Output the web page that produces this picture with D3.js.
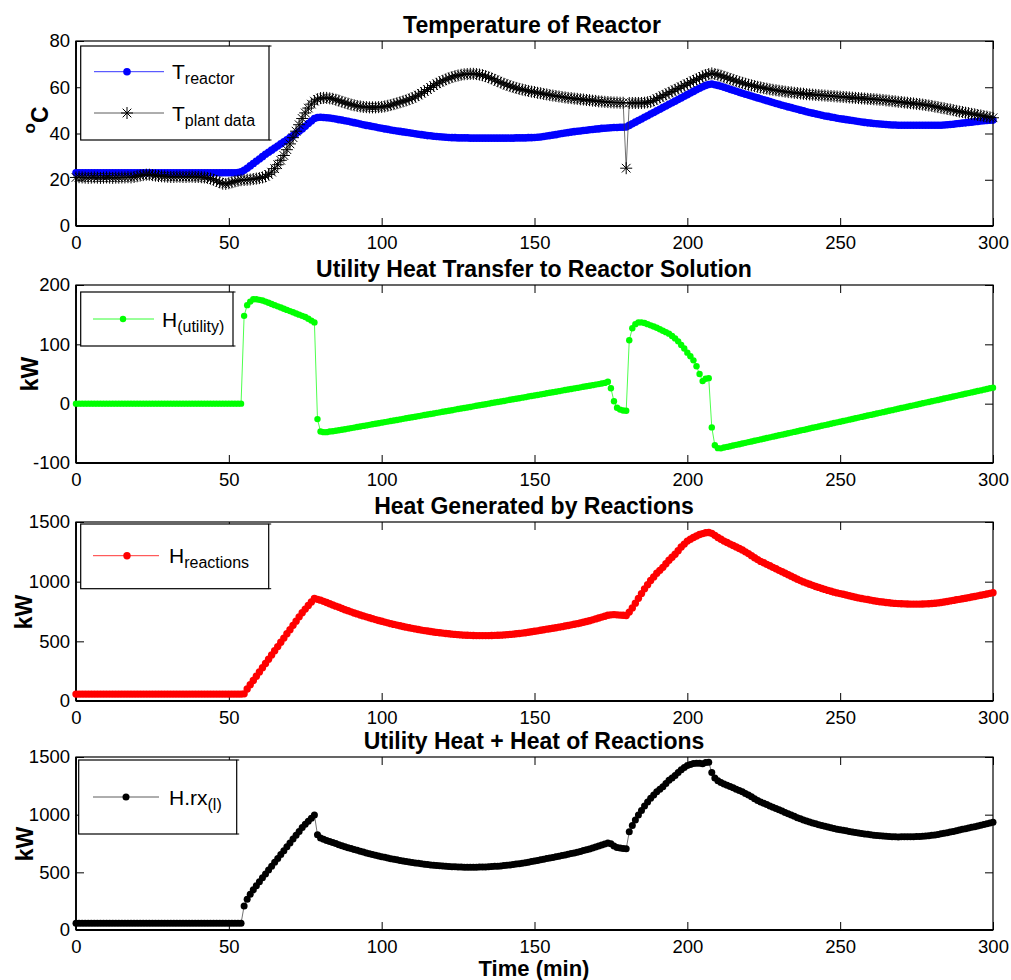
<!DOCTYPE html>
<html>
<head>
<meta charset="utf-8">
<script src="https://cdn.jsdelivr.net/npm/d3@7"></script>
<style>
  body { margin: 0; background: #fff; }
  svg text { font-family: "Liberation Sans", Arial, Helvetica, sans-serif; }
</style>
</head>
<body>
<svg id="chart" width="1011" height="980"></svg>
<script>
// Sampling grid (minutes) shared by every series: one sample per minute
const minutes = d3.range(0, 301);

// Reactor temperature from the model, degC
const tReactor = [
  23, 23, 23, 23, 23, 23, 23, 23, 23, 23,
  23, 23, 23, 23, 23, 23, 23, 23, 23, 23,
  23, 23, 23, 23, 23, 23, 23, 23, 23, 23,
  23, 23, 23, 23, 23, 23, 23, 23, 23, 23,
  23, 23, 23, 23, 23, 23, 23, 23, 23, 23,
  23, 23, 23, 23.1, 23.4, 24.1, 25, 26, 27, 28,
  29, 30, 31, 31.9, 32.8, 33.7, 34.6, 35.5, 36.4, 37.3,
  38.2, 39.1, 40, 41, 42, 43.1, 44.3, 45.4, 46.5, 46.9,
  47, 46.9, 46.8, 46.7, 46.5, 46.3, 46, 45.8, 45.5, 45.3,
  45, 44.7, 44.4, 44.1, 43.8, 43.5, 43.3, 43, 42.8, 42.5,
  42.3, 42, 41.8, 41.5, 41.3, 41.1, 40.9, 40.7, 40.5, 40.3,
  40.1, 39.9, 39.7, 39.5, 39.3, 39.1, 39, 38.8, 38.7, 38.6,
  38.5, 38.4, 38.3, 38.2, 38.2, 38.1, 38.1, 38.1, 38.1, 38,
  38, 38, 38, 38, 38, 38, 38, 38, 38, 38,
  38, 38, 38, 38, 38.1, 38.1, 38.1, 38.1, 38.2, 38.2,
  38.3, 38.4, 38.5, 38.7, 38.9, 39.1, 39.3, 39.5, 39.8, 40,
  40.2, 40.4, 40.6, 40.8, 41, 41.1, 41.3, 41.4, 41.6, 41.7,
  41.9, 42, 42.2, 42.3, 42.4, 42.5, 42.6, 42.6, 42.7, 42.7,
  42.8, 43.5, 44.2, 44.9, 45.6, 46.3, 47, 47.7, 48.4, 49.1,
  49.8, 50.5, 51.2, 51.9, 52.6, 53.3, 54, 54.7, 55.4, 56.1,
  56.8, 57.5, 58.2, 58.9, 59.6, 60.2, 60.8, 61.2, 61.4, 61.1,
  60.8, 60.4, 60, 59.6, 59.1, 58.7, 58.3, 57.8, 57.4, 57,
  56.6, 56.2, 55.8, 55.4, 55, 54.6, 54.2, 53.8, 53.4, 53,
  52.6, 52.2, 51.9, 51.5, 51.2, 50.8, 50.5, 50.1, 49.8, 49.4,
  49.1, 48.8, 48.5, 48.2, 47.9, 47.6, 47.4, 47.1, 46.9, 46.6,
  46.4, 46.2, 46, 45.8, 45.6, 45.4, 45.2, 45, 44.8, 44.6,
  44.5, 44.3, 44.2, 44.1, 44, 43.9, 43.8, 43.7, 43.7, 43.6,
  43.6, 43.6, 43.6, 43.6, 43.6, 43.6, 43.6, 43.6, 43.6, 43.6,
  43.6, 43.6, 43.6, 43.6, 43.7, 43.8, 43.9, 44, 44.2, 44.3,
  44.5, 44.6, 44.8, 44.9, 45.1, 45.2, 45.4, 45.5, 45.6, 45.7,
  45.8
];

// Measured plant temperature, degC
const tPlant = [
  21, 21.1, 21, 20.9, 20.8, 20.9, 21, 20.9, 20.8, 20.9,
  21, 20.9, 20.8, 20.9, 20.9, 21, 21, 21.1, 21, 21.2,
  21.5, 21.8, 22, 22.2, 22.2, 22, 21.8, 21.6, 21.5, 21.4,
  21.3, 21.2, 21.2, 21.3, 21.3, 21.2, 21.2, 21.3, 21.3, 21.2,
  21.2, 21.1, 21, 20.8, 20.5, 20, 19.5, 18.9, 18.3, 18.2,
  18.5, 18.9, 19.3, 19.6, 19.8, 19.9, 20, 20.1, 20.3, 20.5,
  20.7, 21, 21.5, 22.3, 23.3, 24.8, 26.5, 28.4, 30.5, 33,
  35.5, 38.2, 41, 43.8, 46.5, 48.9, 51, 52.7, 54, 54.8,
  55.3, 55.4, 55.4, 55.2, 55, 54.6, 54.2, 53.7, 53.3, 52.9,
  52.5, 52.2, 51.9, 51.7, 51.5, 51.4, 51.3, 51.3, 51.3, 51.4,
  51.5, 51.7, 52, 52.3, 52.7, 53.1, 53.5, 53.9, 54.3, 54.8,
  55.3, 55.9, 56.6, 57.4, 58.2, 59, 59.9, 60.7, 61.5, 62.2,
  62.8, 63.4, 63.9, 64.4, 64.8, 65.1, 65.4, 65.6, 65.7, 65.8,
  65.8, 65.7, 65.5, 65.2, 64.8, 64.3, 63.8, 63.2, 62.6, 62,
  61.5, 61, 60.5, 60.1, 59.7, 59.3, 59, 58.7, 58.4, 58.1,
  57.9, 57.6, 57.4, 57.1, 56.9, 56.6, 56.4, 56.2, 56, 55.8,
  55.6, 55.4, 55.3, 55.1, 55, 54.8, 54.7, 54.5, 54.4, 54.2,
  54.1, 53.9, 53.8, 53.7, 53.6, 53.5, 53.4, 53.4, 53.3, 53.3,
  25, 53.2, 53.2, 53.2, 53.2, 53.2, 53.3, 53.5, 53.7, 54.3,
  55, 55.6, 56.3, 56.9, 57.6, 58.2, 58.9, 59.5, 60.2, 60.8,
  61.5, 62.1, 62.8, 63.4, 64, 64.7, 65.3, 65.7, 66, 65.7,
  65.4, 65, 64.5, 64.1, 63.6, 63.2, 62.7, 62.3, 61.9, 61.5,
  61.1, 60.8, 60.5, 60.2, 59.9, 59.6, 59.4, 59.1, 58.9, 58.7,
  58.5, 58.3, 58.1, 57.9, 57.8, 57.6, 57.5, 57.3, 57.2, 57,
  56.9, 56.8, 56.7, 56.6, 56.5, 56.4, 56.3, 56.2, 56.1, 56,
  55.9, 55.8, 55.7, 55.6, 55.5, 55.4, 55.3, 55.2, 55.1, 55,
  54.9, 54.8, 54.7, 54.6, 54.5, 54.3, 54.2, 54, 53.9, 53.7,
  53.6, 53.4, 53.3, 53.1, 53, 52.8, 52.7, 52.5, 52.3, 52.1,
  51.9, 51.6, 51.4, 51.1, 50.9, 50.6, 50.4, 50.1, 49.8, 49.5,
  49.3, 49, 48.8, 48.5, 48.3, 48, 47.8, 47.5, 47.3, 47,
  46.8
];

// Utility heat transferred to the reactor solution, kW
const hUtility = [
  0, 0, 0, 0, 0, 0, 0, 0, 0, 0,
  0, 0, 0, 0, 0, 0, 0, 0, 0, 0,
  0, 0, 0, 0, 0, 0, 0, 0, 0, 0,
  0, 0, 0, 0, 0, 0, 0, 0, 0, 0,
  0, 0, 0, 0, 0, 0, 0, 0, 0, 0,
  0, 0, 0, 0, 0, 148, 166, 172, 176, 176,
  175, 174, 172, 170, 168, 166, 164, 162, 160, 158,
  156, 154, 152, 150, 148, 146, 143, 140, 137, -26,
  -47, -48, -48, -47, -46.5, -45.6, -44.8, -43.9, -43, -42.1,
  -41.2, -40.3, -39.4, -38.5, -37.5, -36.6, -35.7, -34.8, -33.9, -33,
  -32, -31.1, -30.2, -29.3, -28.4, -27.5, -26.5, -25.6, -24.7, -23.8,
  -22.9, -22, -21, -20.1, -19.2, -18.3, -17.4, -16.5, -15.5, -14.6,
  -13.7, -12.8, -11.9, -11, -10, -9.1, -8.2, -7.3, -6.4, -5.5,
  -4.5, -3.6, -2.7, -1.8, -0.9, 0, 1, 1.9, 2.8, 3.7,
  4.6, 5.5, 6.5, 7.4, 8.3, 9.2, 10.1, 11, 12, 12.9,
  13.8, 14.7, 15.6, 16.5, 17.5, 18.4, 19.3, 20.2, 21.1, 22,
  23, 23.9, 24.8, 25.7, 26.6, 27.5, 28.5, 29.4, 30.3, 31.2,
  32.1, 33, 34, 35, 37, 26, 4, -7, -10, -11.5,
  -12, 107, 127, 134, 137, 137, 136, 134, 132, 130,
  128, 125.5, 123, 120.5, 118, 114, 110, 105, 99, 93,
  86, 80, 73, 63, 50, 38, 42, 43, -40, -70,
  -75, -75.3, -74, -72.9, -71.7, -70.6, -69.4, -68.3, -67.1, -66,
  -64.8, -63.7, -62.5, -61.4, -60.2, -59.1, -57.9, -56.8, -55.6, -54.5,
  -53.3, -52.2, -51, -49.9, -48.8, -47.6, -46.4, -45.3, -44.2, -43,
  -41.9, -40.7, -39.6, -38.4, -37.3, -36.1, -35, -33.8, -32.7, -31.5,
  -30.4, -29.2, -28.1, -26.9, -25.8, -24.6, -23.5, -22.3, -21.2, -20,
  -18.9, -17.8, -16.6, -15.5, -14.3, -13.2, -12, -10.9, -9.7, -8.6,
  -7.4, -6.3, -5.1, -4, -2.8, -1.7, -0.5, 0.6, 1.8, 2.9,
  4, 5.2, 6.3, 7.5, 8.6, 9.8, 10.9, 12.1, 13.2, 14.4,
  15.5, 16.7, 17.8, 19, 20.1, 21.3, 22.4, 23.6, 24.7, 25.9,
  27
];

// Heat generated by the reactions, kW
const hReactions = [
  58, 58, 58, 58, 58, 58, 58, 58, 58, 58,
  58, 58, 58, 58, 58, 58, 58, 58, 58, 58,
  58, 58, 58, 58, 58, 58, 58, 58, 58, 58,
  58, 58, 58, 58, 58, 58, 58, 58, 58, 58,
  58, 58, 58, 58, 58, 58, 58, 58, 58, 58,
  58, 58, 58, 58, 58, 60, 100, 137, 172, 208,
  243, 279, 314, 350, 385, 421, 456, 492, 527, 563,
  598, 634, 669, 705, 740, 770, 800, 830, 860, 852,
  845, 835, 825, 815, 805, 795, 785, 775, 765, 756,
  747, 738, 730, 721, 713, 705, 697, 690, 682, 675,
  668, 661, 655, 648, 642, 636, 630, 624, 619, 614,
  609, 604, 599, 594, 590, 586, 582, 578, 575, 572,
  569, 566, 563, 560, 558, 556, 554, 552, 551, 550,
  549, 548, 548, 548, 548, 548, 549, 550, 551, 552,
  554, 556, 558, 560, 563, 566, 569, 572, 576, 580,
  584, 588, 593, 597, 602, 606, 610, 614, 619, 623,
  628, 633, 638, 643, 648, 654, 660, 666, 673, 680,
  688, 695, 703, 710, 718, 722, 724, 722, 720, 718,
  716, 745, 780, 820, 860, 900, 940, 975, 1010, 1040,
  1070, 1095, 1120, 1150, 1180, 1205, 1230, 1260, 1290, 1315,
  1340, 1355, 1370, 1383, 1395, 1403, 1410, 1412, 1405, 1388,
  1370, 1355, 1340, 1328, 1315, 1303, 1290, 1278, 1265, 1250,
  1235, 1218, 1200, 1185, 1170, 1158, 1145, 1133, 1120, 1108,
  1095, 1083, 1070, 1058, 1045, 1033, 1020, 1009, 998, 988,
  978, 969, 960, 952, 943, 935, 927, 920, 912, 906,
  900, 894, 888, 882, 876, 870, 864, 859, 854, 850,
  845, 840, 836, 832, 829, 826, 823, 820, 818, 816,
  815, 814, 813, 812, 812, 812, 812, 813, 814, 815,
  817, 819, 822, 826, 830, 834, 839, 843, 848, 852,
  857, 861, 866, 871, 876, 881, 886, 891, 897, 902,
  908
];

// Utility heat plus heat of reactions, kW
const hTotal = [
  58, 58, 58, 58, 58, 58, 58, 58, 58, 58,
  58, 58, 58, 58, 58, 58, 58, 58, 58, 58,
  58, 58, 58, 58, 58, 58, 58, 58, 58, 58,
  58, 58, 58, 58, 58, 58, 58, 58, 58, 58,
  58, 58, 58, 58, 58, 58, 58, 58, 58, 58,
  58, 58, 58, 58, 58, 208, 266, 309, 348, 384,
  418, 453, 486, 520, 553, 587, 620, 654, 687, 721,
  754, 788, 821, 855, 888, 916, 943, 970, 997, 826,
  798, 787, 777, 768, 758.5, 749.4, 740.2, 731.1, 722, 713.9,
  705.8, 697.7, 690.6, 682.5, 675.5, 668.4, 661.3, 655.2, 648.1, 642,
  636, 629.9, 624.8, 618.7, 613.6, 608.5, 603.5, 598.4, 594.3, 590.2,
  586.1, 582, 578, 573.9, 570.8, 567.7, 564.6, 561.5, 559.5, 557.4,
  555.3, 553.2, 551.1, 549, 548, 546.9, 545.8, 544.7, 544.6, 544.5,
  544.5, 544.4, 545.3, 546.2, 547.1, 548, 550, 551.9, 553.8, 555.7,
  558.6, 561.5, 564.5, 567.4, 571.3, 575.2, 579.1, 583, 588, 592.9,
  597.8, 602.7, 608.6, 613.5, 619.5, 624.4, 629.3, 634.2, 640.1, 645,
  651, 656.9, 662.8, 668.7, 674.6, 681.5, 688.5, 695.4, 703.3, 711.2,
  720.1, 728, 737, 745, 755, 748, 728, 715, 710, 706.5,
  704, 852, 907, 954, 997, 1037, 1076, 1109, 1142, 1170,
  1198, 1220.5, 1243, 1270.5, 1298, 1319, 1340, 1365, 1389, 1408,
  1426, 1435, 1443, 1446, 1445, 1441, 1452, 1455, 1365, 1318,
  1295, 1279.7, 1266, 1255.1, 1243.3, 1232.4, 1220.6, 1209.7, 1197.9, 1184,
  1170.2, 1154.3, 1137.5, 1123.6, 1109.8, 1098.9, 1087.1, 1076.2, 1064.4, 1053.5,
  1041.7, 1030.8, 1019, 1008.1, 996.2, 985.4, 973.6, 963.7, 953.8, 945,
  936.1, 928.3, 920.4, 913.6, 905.7, 898.9, 892, 886.2, 879.3, 874.5,
  869.6, 864.8, 859.9, 855.1, 850.2, 845.4, 840.5, 836.7, 832.8, 830,
  826.1, 822.2, 819.4, 816.5, 814.7, 812.8, 811, 809.1, 808.3, 807.4,
  807.6, 807.7, 807.9, 808, 809.2, 810.3, 811.5, 813.6, 815.8, 817.9,
  821, 824.2, 828.3, 833.5, 838.6, 843.8, 849.9, 855.1, 861.2, 866.4,
  872.5, 877.7, 883.8, 890, 896.1, 902.3, 908.4, 914.6, 921.7, 927.9,
  935
];

// Tick values
const timeTicks = [0, 50, 100, 150, 200, 250, 300];
const tempTicks = [0, 20, 40, 60, 80];
const utilityTicks = [-100, 0, 100, 200];
const heatTicks = [0, 500, 1000, 1500];

const FONT = '"Liberation Sans", Arial, Helvetica, sans-serif';
const svg = d3.select("#chart");
svg.append("rect").attr("width", 1011).attr("height", 980).attr("fill", "#fff");

const x = d3.scaleLinear().domain([0, 300]).range([76, 993]);
const plotLeft = 76, plotRight = 993, TICK = 8;
const plainNumber = d => String(d);

const panels = [
  {
    top: 41, bottom: 226, domain: [0, 80], ticks: tempTicks,
    title: "Temperature of Reactor", titleX: 532,
    ylabel: { kind: "degC", x: 48, y: 120 },
    series: [
      { values: tReactor, line: "#0000ff", fill: "#0000ff", marker: "dot", r: 3.8 },
      { values: tPlant, line: "#333", stroke: "#000", marker: "star", r: 6, sw: 1 }
    ],
    legend: {
      x: 80.7, y: 46, w: 188.3, h: 94,
      rows: [
        { y: 71.7, x1: 94, x2: 164, mx: 127, tx: 172, main: "T", sub: "reactor", s: 0 },
        { y: 113, x1: 94, x2: 164, mx: 127, tx: 172, main: "T", sub: "plant data", s: 1 }
      ]
    }
  },
  {
    top: 285, bottom: 463, domain: [-100, 200], ticks: utilityTicks,
    title: "Utility Heat Transfer to Reactor Solution", titleX: 534,
    ylabel: { kind: "text", text: "kW", x: 38, y: 374 },
    series: [
      { values: hUtility, line: "#00ff00", fill: "#00ff00", marker: "dot", r: 3.2 }
    ],
    legend: {
      x: 80.7, y: 292, w: 152.3, h: 54,
      rows: [
        { y: 319, x1: 93, x2: 154, mx: 123, tx: 162, main: "H", sub: "(utility)", s: 0 }
      ]
    }
  },
  {
    top: 522, bottom: 701, domain: [0, 1500], ticks: heatTicks,
    title: "Heat Generated by Reactions", titleX: 534,
    ylabel: { kind: "text", text: "kW", x: 32, y: 612 },
    series: [
      { values: hReactions, line: "#ff0000", fill: "#ff0000", marker: "dot", r: 3.7 }
    ],
    legend: {
      x: 80.7, y: 524, w: 188, h: 64.7,
      rows: [
        { y: 555.7, x1: 93, x2: 159, mx: 127, tx: 169, main: "H", sub: "reactions", s: 0 }
      ]
    }
  },
  {
    top: 757, bottom: 930, domain: [0, 1500], ticks: heatTicks,
    title: "Utility Heat + Heat of Reactions", titleX: 534,
    ylabel: { kind: "text", text: "kW", x: 33, y: 844 },
    series: [
      { values: hTotal, line: "#333", fill: "#000", marker: "dot", r: 3.5 }
    ],
    legend: {
      x: 78.7, y: 760, w: 158, h: 74,
      rows: [
        { y: 797, x1: 93, x2: 159, mx: 126, tx: 169, main: "H.rx", sub: "(l)", s: 0 }
      ]
    }
  }
];

// Asterisk marker outline
function starPath(s) {
  const d = s * 0.72;
  return `M${-s},0H${s}M0,${-s}V${s}M${-d},${-d}L${d},${d}M${-d},${d}L${d},${-d}`;
}

function drawMarker(g, mx, my, ser) {
  if (ser.marker === "dot") {
    g.append("circle").attr("cx", mx).attr("cy", my).attr("r", ser.r).attr("fill", ser.fill);
  } else {
    g.append("path").attr("transform", `translate(${mx},${my})`)
      .attr("d", starPath(ser.r)).attr("fill", "none")
      .attr("stroke", ser.stroke).attr("stroke-width", ser.sw);
  }
}

panels.forEach(p => {
  const y = d3.scaleLinear().domain(p.domain).range([p.bottom, p.top]);
  const g = svg.append("g");

  // Plot frame
  g.append("rect").attr("x", plotLeft).attr("y", p.top)
    .attr("width", plotRight - plotLeft).attr("height", p.bottom - p.top)
    .attr("fill", "#fff").attr("stroke", "#000").attr("stroke-width", 1.2);
  g.append("line").attr("x1", plotLeft).attr("x2", plotLeft).attr("y1", p.top).attr("y2", p.bottom)
    .attr("stroke", "#000").attr("stroke-width", 1.8);
  g.append("line").attr("x1", plotLeft).attr("x2", plotRight).attr("y1", p.bottom).attr("y2", p.bottom)
    .attr("stroke", "#000").attr("stroke-width", 1.8);

  // Axes with inward ticks on all four sides
  const bottomAxis = g.append("g").attr("transform", `translate(0,${p.bottom})`)
    .call(d3.axisBottom(x).tickValues(timeTicks).tickFormat(plainNumber)
      .tickSizeInner(-TICK).tickSizeOuter(0).tickPadding(9.5));
  const topAxis = g.append("g").attr("transform", `translate(0,${p.top})`)
    .call(d3.axisTop(x).tickValues(timeTicks).tickSizeInner(-TICK).tickSizeOuter(0).tickFormat(""));
  const leftAxis = g.append("g").attr("transform", `translate(${plotLeft},0)`)
    .call(d3.axisLeft(y).tickValues(p.ticks).tickFormat(plainNumber)
      .tickSizeInner(-TICK).tickSizeOuter(0).tickPadding(6));
  const rightAxis = g.append("g").attr("transform", `translate(${plotRight},0)`)
    .call(d3.axisRight(y).tickValues(p.ticks).tickSizeInner(-TICK).tickSizeOuter(0).tickFormat(""));
  [bottomAxis, topAxis, leftAxis, rightAxis].forEach(a => {
    a.select(".domain").remove();
    a.attr("font-size", 18.5).attr("font-family", FONT);
    a.selectAll(".tick line").attr("stroke", "#000").attr("stroke-width", 1);
    a.selectAll(".tick text").attr("fill", "#000");
  });

  // Series: thin connecting line, then markers
  p.series.forEach(ser => {
    const line = d3.line().x((v, i) => x(minutes[i])).y(v => y(v));
    g.append("path").datum(ser.values).attr("d", line)
      .attr("fill", "none").attr("stroke", ser.line).attr("stroke-width", 0.7);
    const mg = g.append("g");
    ser.values.forEach((v, i) => drawMarker(mg, x(minutes[i]), y(v), ser));
  });

  // Title
  svg.append("text").attr("x", p.titleX).attr("y", p.top - 8)
    .attr("text-anchor", "middle").attr("font-weight", "bold").attr("font-size", 23)
    .text(p.title);

  // Y-axis label
  const yl = svg.append("text")
    .attr("transform", `translate(${p.ylabel.x},${p.ylabel.y}) rotate(-90)`)
    .attr("text-anchor", "middle").attr("font-weight", "bold").attr("font-size", 23);
  if (p.ylabel.kind === "degC") {
    yl.append("tspan").attr("font-size", 17).attr("dy", -13).text("o");
    yl.append("tspan").attr("dy", 13).text("C");
  } else {
    yl.text(p.ylabel.text);
  }

  // Legend
  const L = p.legend;
  const lg = svg.append("g");
  lg.append("rect").attr("x", L.x).attr("y", L.y).attr("width", L.w).attr("height", L.h)
    .attr("fill", "#fff").attr("stroke", "#000").attr("stroke-width", 1.2);
  [L.y, L.y + L.h].forEach(yy => {
    lg.append("line").attr("x1", L.x + L.w).attr("x2", L.x + L.w + 2.5)
      .attr("y1", yy).attr("y2", yy).attr("stroke", "#000").attr("stroke-width", 1);
  });
  L.rows.forEach(row => {
    const ser = p.series[row.s];
    lg.append("line").attr("x1", row.x1).attr("x2", row.x2).attr("y1", row.y).attr("y2", row.y)
      .attr("stroke", ser.line).attr("stroke-width", 0.8);
    drawMarker(lg, row.mx, row.y, ser);
    const t = lg.append("text").attr("x", row.tx).attr("y", row.y + 7.5).attr("font-size", 21);
    t.append("tspan").text(row.main);
    t.append("tspan").attr("font-size", 16).attr("dy", 5).text(row.sub);
  });
});

// Shared x-axis label
svg.append("text").attr("x", 534).attr("y", 976)
  .attr("text-anchor", "middle").attr("font-weight", "bold").attr("font-size", 22)
  .text("Time (min)");
</script>
</body>
</html>
